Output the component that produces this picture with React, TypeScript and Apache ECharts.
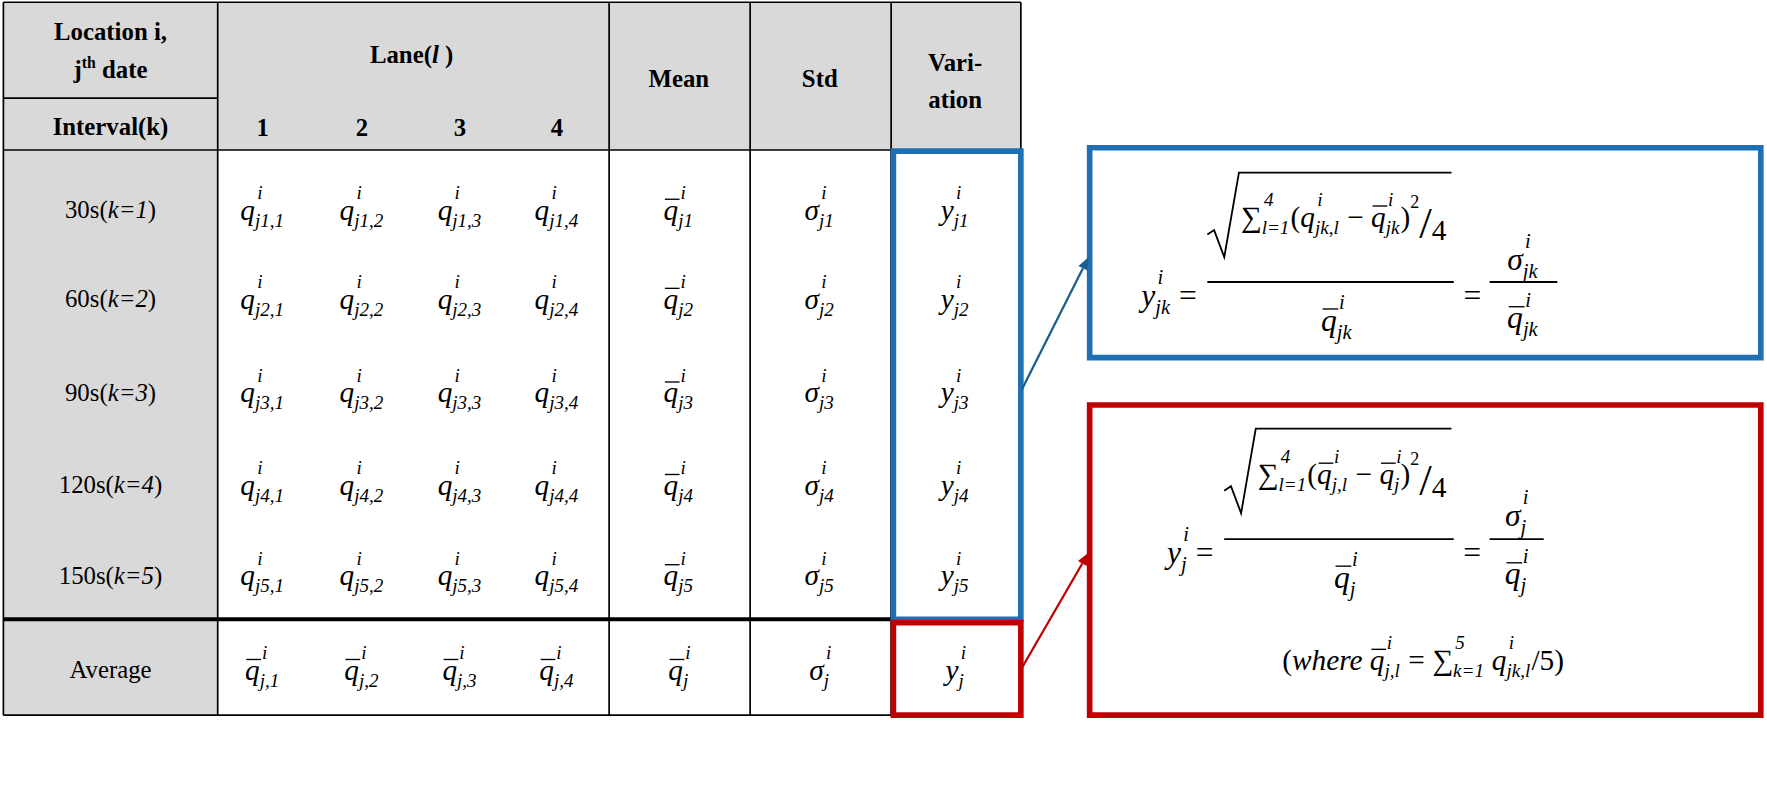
import React, { useEffect, useRef } from "react";
import * as echarts from "echarts";

const intervals = ["30s", "60s", "90s", "120s", "150s"];
const kIdx = ["1", "2", "3", "4", "5"];
const lanes = ["1", "2", "3", "4"];
const FONT = "Liberation Serif";
const BLUE = "#1f6fb4";
const RED = "#c00000";
const GRAY = "#d9d9d9";
const SCALE = 1767 / 1567;

const cnv = document.createElement("canvas");
const ctx = cnv.getContext("2d") as CanvasRenderingContext2D;
function meas(t: string, s: number, it?: boolean, b?: boolean) {
  ctx.font = `${it ? "italic " : ""}${b ? "bold " : ""}${s}px "${FONT}"`;
  return ctx.measureText(t).width;
}
type Tok = { t?: string; sup?: string; sub?: string; s?: number; it?: boolean; b?: boolean; bar?: boolean; dy?: number; gap?: number };

function txt(t: string, x: number, y: number, s: number, it?: boolean, b?: boolean, fill = "#000", align = "left"): any {
  return { type: "text", x, y, silent: true, style: { text: t, fill, fontSize: s, fontFamily: FONT, fontStyle: it ? "italic" : "normal", fontWeight: b ? "bold" : "normal", align, verticalAlign: "middle" } };
}

function flow(toks: Tok[], x0: number, cy: number, base = 26, center = true) {
  const widths = toks.map((k) => {
    const s = k.s ?? base;
    if (k.gap !== undefined) return k.gap;
    if (k.t !== undefined) return meas(k.t, s, k.it, k.b);
    const ss = s * 0.65;
    return Math.max(meas(k.sup || "", ss, true), meas(k.sub || "", ss, true)) + 1;
  });
  const total = widths.reduce((a, b) => a + b, 0);
  let x = center ? x0 - total / 2 : x0;
  const els: any[] = [];
  toks.forEach((k, i) => {
    const s = k.s ?? base;
    const y = cy + (k.dy ?? 0);
    if (k.gap !== undefined) { x += widths[i]; return; }
    if (k.t !== undefined) {
      els.push(txt(k.t, x, y, s, k.it, k.b));
      if (k.bar) els.push({ type: "line", silent: true, shape: { x1: x + 1, y1: y - s * 0.36, x2: x + widths[i] + 1, y2: y - s * 0.36 }, style: { stroke: "#000", lineWidth: 1.2 } });
    } else {
      const ss = s * 0.65;
      if (k.sup) els.push(txt(k.sup, x + 2, y - s * 0.58, ss, true));
      if (k.sub) els.push(txt(k.sub, x, y + s * 0.36, ss, true));
    }
    x += widths[i];
  });
  return { els, end: x, width: total };
}

const sym = (base: string, sub: string, bar = false, s = 26): Tok[] => [
  { t: base, it: true, bar, s },
  { sup: "i", sub, s },
];

function buildGraphic() {
  const g: any[] = [];
  const L = 3, R = 905, T = 2, B = 634;
  const colX = [3, 193, 540, 665, 790, 905];
  g.push({ type: "rect", silent: true, shape: { x: L, y: T, width: R - L, height: 131 }, style: { fill: GRAY } });
  g.push({ type: "rect", silent: true, shape: { x: L, y: 133, width: 190, height: B - 133 }, style: { fill: GRAY } });
  const line = (x1: number, y1: number, x2: number, y2: number, w = 1.5, c = "#000") =>
    g.push({ type: "line", silent: true, shape: { x1, y1, x2, y2 }, style: { stroke: c, lineWidth: w } });
  colX.forEach((x) => line(x, T, x, B));
  line(L, T, R, T);
  line(L, B, R, B);
  line(L, 87, 193, 87);
  line(L, 133, R, 133);
  line(L, 549, R, 549, 3.5);

  g.push(txt("Location i,", 98, 28, 22, false, true, "#000", "center"));
  g.push(...flow([{ t: "j", b: true, s: 22 }, { t: "th", b: true, s: 14, dy: -7 }, { t: " date", b: true, s: 22 }], 98, 62, 22).els);
  g.push(txt("Interval(k)", 98, 112, 22, false, true, "#000", "center"));
  g.push(...flow([{ t: "Lane(", b: true, s: 22 }, { t: "l", b: true, it: true, s: 22 }, { t: " )", b: true, s: 22 }], 365, 48, 22).els);
  const laneX = [233, 321, 408, 494];
  lanes.forEach((l, i) => g.push(txt(l, laneX[i], 113, 22, false, true, "#000", "center")));
  g.push(txt("Mean", 602, 70, 22, false, true, "#000", "center"));
  g.push(txt("Std", 727, 70, 22, false, true, "#000", "center"));
  g.push(txt("Vari-", 847, 55, 22, false, true, "#000", "center"));
  g.push(txt("ation", 847, 88, 22, false, true, "#000", "center"));

  const rowY = [186, 265, 348, 430, 510];
  intervals.forEach((iv, r) => {
    const y = rowY[r];
    const k = kIdx[r];
    g.push(...flow([{ t: iv + "(", s: 22 }, { t: "k=" + k, it: true, s: 22 }, { t: ")", s: 22 }], 98, y, 22).els);
    lanes.forEach((l, i) => g.push(...flow(sym("q", `j${k},${l}`), laneX[i], y).els));
    g.push(...flow(sym("q", `j${k}`, true), 602, y).els);
    g.push(...flow(sym("σ", `j${k}`), 727, y).els);
    g.push(...flow(sym("y", `j${k}`), 847, y).els);
  });
  const ay = 594;
  g.push(txt("Average", 98, ay, 22, false, false, "#000", "center"));
  lanes.forEach((l, i) => g.push(...flow(sym("q", `j,${l}`, true), laneX[i], ay).els));
  g.push(...flow(sym("q", "j", true), 602, ay).els);
  g.push(...flow(sym("σ", "j"), 727, ay).els);
  g.push(...flow(sym("y", "j"), 847, ay).els);

  g.push({ type: "rect", silent: true, shape: { x: 792, y: 134, width: 113, height: 415 }, style: { fill: "none", stroke: BLUE, lineWidth: 5 } });
  g.push({ type: "rect", silent: true, shape: { x: 792, y: 552, width: 113, height: 82 }, style: { fill: "none", stroke: RED, lineWidth: 5 } });
  g.push({ type: "rect", silent: true, shape: { x: 966, y: 131, width: 595, height: 186 }, style: { fill: "none", stroke: BLUE, lineWidth: 5 } });
  g.push({ type: "rect", silent: true, shape: { x: 966, y: 359, width: 595, height: 275 }, style: { fill: "none", stroke: RED, lineWidth: 5 } });

  const arrow = (x1: number, y1: number, x2: number, y2: number, c: string) => {
    const a = Math.atan2(y2 - y1, x2 - x1);
    const len = 11, wd = 4.5;
    const bx = x2 - len * Math.cos(a), by = y2 - len * Math.sin(a);
    line(x1, y1, bx, by, 2, c);
    g.push({ type: "polygon", silent: true, shape: { points: [[x2, y2], [bx + wd * Math.sin(a), by - wd * Math.cos(a)], [bx - wd * Math.sin(a), by + wd * Math.cos(a)]] }, style: { fill: c } });
  };
  arrow(906, 345, 965, 228, "#1a5f8c");
  arrow(906, 592, 965, 490, RED);

  const sqrt = (x1: number, x2: number, top: number, bottom: number) =>
    g.push({ type: "polyline", silent: true, shape: { points: [[x1, bottom - 20], [x1 + 6, bottom - 24], [x1 + 15, bottom], [x1 + 28, top], [x2, top]] }, style: { stroke: "#000", lineWidth: 1.6, fill: "none" } });

  // blue formula
  let f = flow([...sym("y", "jk", false, 28), { t: " = ", s: 28 }], 1012, 262, 28, false);
  g.push(...f.els);
  const num1 = flow([{ t: "∑", s: 26 }, { sup: "4", sub: "l=1", s: 26 }, { t: "(" }, ...sym("q", "jk,l"), { t: " − " }, ...sym("q", "jk", true), { t: ")" }, { t: "2", s: 16, dy: -13 }, { t: "/", s: 40, dy: 6 }, { t: "4", dy: 12 }], f.end + 32, 192, 26, false);
  g.push(...num1.els);
  sqrt(f.end + 2, num1.end + 4, 153, 228);
  line(f.end + 2, 250, num1.end + 6, 250, 1.6);
  g.push(...flow(sym("q", "jk", true, 28), (f.end + num1.end) / 2 + 10, 284, 28).els);
  const e1 = flow([{ t: " = ", s: 28 }], num1.end + 8, 262, 28, false);
  g.push(...e1.els);
  g.push(...flow(sym("σ", "jk", false, 28), e1.end + 30, 230, 28).els, ...flow(sym("q", "jk", true, 28), e1.end + 30, 282, 28).els);
  line(e1.end, 250, e1.end + 60, 250, 1.6);

  // red formula
  f = flow([...sym("y", "j", false, 28), { t: " = ", s: 28 }], 1035, 490, 28, false);
  g.push(...f.els);
  const num2 = flow([{ t: "∑", s: 26 }, { sup: "4", sub: "l=1", s: 26 }, { t: "(" }, ...sym("q", "j,l", true), { t: " − " }, ...sym("q", "j", true), { t: ")" }, { t: "2", s: 16, dy: -13 }, { t: "/", s: 40, dy: 6 }, { t: "4", dy: 12 }], f.end + 32, 420, 26, false);
  g.push(...num2.els);
  sqrt(f.end + 2, num2.end + 4, 380, 455);
  line(f.end + 2, 478, num2.end + 6, 478, 1.6);
  g.push(...flow(sym("q", "j", true, 28), (f.end + num2.end) / 2 + 10, 512, 28).els);
  const e2 = flow([{ t: " = ", s: 28 }], num2.end + 8, 490, 28, false);
  g.push(...e2.els);
  g.push(...flow(sym("σ", "j", false, 28), e2.end + 24, 457, 28).els, ...flow(sym("q", "j", true, 28), e2.end + 24, 509, 28).els);
  line(e2.end, 478, e2.end + 48, 478, 1.6);
  g.push(...flow([{ t: "(" }, { t: "where ", it: true }, ...sym("q", "j,l", true), { t: " = " }, { t: "∑" }, { sup: "5", sub: "k=1" }, { gap: 6 }, ...sym("q", "jk,l"), { t: "/5)" }], 1262, 585, 26).els);
  return [{ type: "group", scaleX: SCALE, scaleY: SCALE, x: 0, y: 0, children: g }];
}

export default function App() {
  const ref = useRef<HTMLDivElement>(null);
  useEffect(() => {
    const chart = echarts.init(ref.current!, undefined, { renderer: "svg" });
    chart.setOption({ animation: false, backgroundColor: "#fff", graphic: { elements: buildGraphic() } });
    return () => chart.dispose();
  }, []);
  return <div ref={ref} style={{ position: "fixed", left: 0, top: 0, width: 1767, height: 801, background: "#fff" }} />;
}
